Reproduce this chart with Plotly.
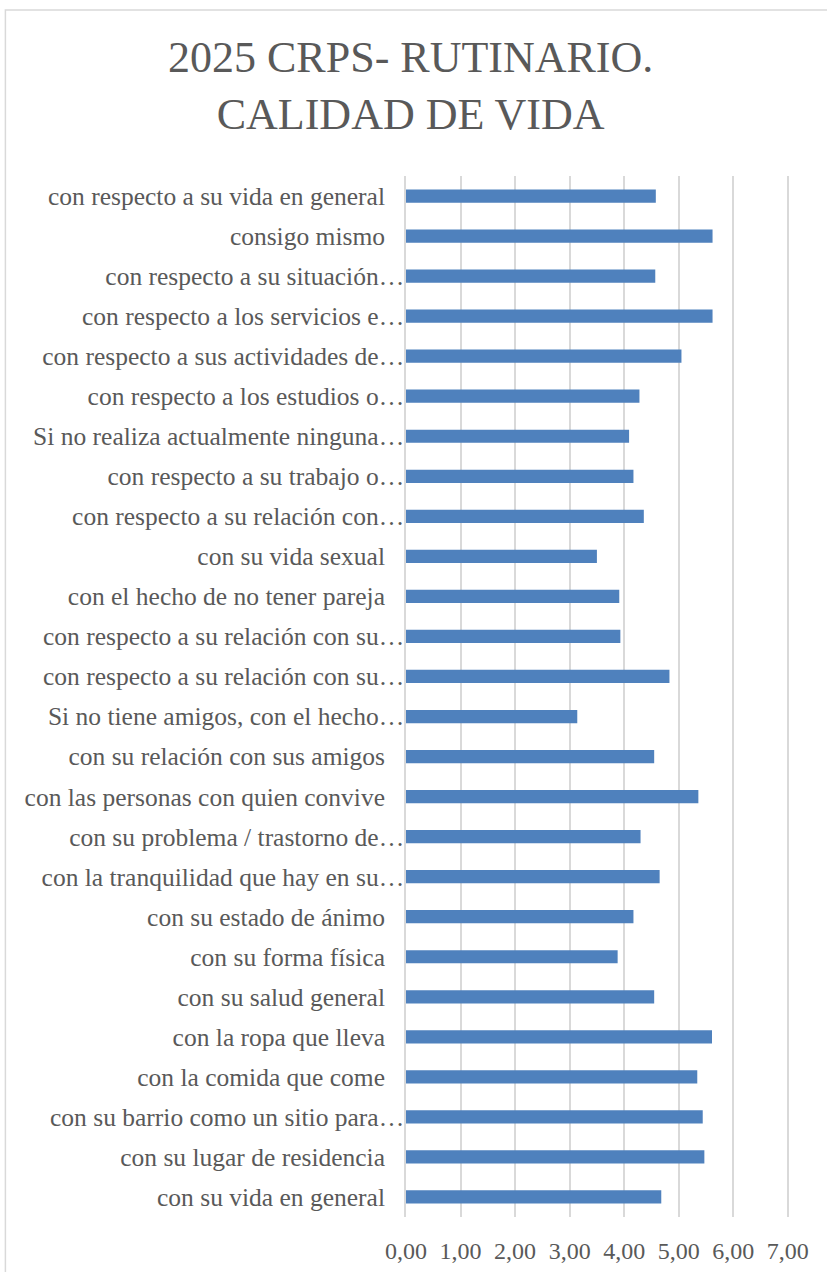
import plotly.graph_objects as go

categories = [
    "con respecto a su vida en general",
    "consigo mismo",
    "con respecto a su situación…",
    "con respecto a los servicios e…",
    "con respecto a sus actividades de…",
    "con respecto a los estudios o…",
    "Si no realiza actualmente ninguna…",
    "con respecto a su trabajo o…",
    "con respecto a su relación con…",
    "con su vida sexual",
    "con el hecho de no tener pareja",
    "con respecto a su relación con su…",
    "con respecto a su relación con su…",
    "Si no tiene amigos, con el hecho…",
    "con su relación con sus amigos",
    "con las personas con quien convive",
    "con su problema / trastorno de…",
    "con la tranquilidad que hay en su…",
    "con su estado de ánimo",
    "con su forma física",
    "con su salud general",
    "con la ropa que lleva",
    "con la comida que come",
    "con su barrio como un sitio para…",
    "con su lugar de residencia",
    "con su vida en general",
]
values = [4.58, 5.62, 4.57, 5.62, 5.05, 4.28, 4.09, 4.17, 4.36, 3.50, 3.91, 3.93, 4.83,
          3.14, 4.55, 5.36, 4.30, 4.65, 4.17, 3.88, 4.55, 5.61, 5.34, 5.44, 5.47, 4.68]
tick_values = [0, 1, 2, 3, 4, 5, 6, 7]
title_text = "2025 CRPS- RUTINARIO.<br>CALIDAD DE VIDA"

# unique ids for positions (two labels are identical)
ids = list(range(len(categories)))
labels = [c if c.endswith("…") else c + "\u00a0\u00a0\u00a0" for c in categories]

W, H = 827, 1272
X_MAX = 7.04
ML, MT, MB = 406, 176, 55
PW = 54.6 * X_MAX
MR = W - ML - PW
PH = H - MT - MB

fig = go.Figure(go.Bar(
    x=values, y=ids, orientation="h",
    marker=dict(color="#4F81BD", line=dict(width=0)),
    width=0.33,
))

fig.update_layout(
    width=W, height=H,
    margin=dict(l=ML, r=MR, t=MT, b=MB, pad=0, autoexpand=False),
    paper_bgcolor="white", plot_bgcolor="white",
    separators=",.",
    font=dict(family="Liberation Serif", color="#595959"),
    showlegend=False,
    xaxis=dict(
        range=[0, X_MAX], tickvals=tick_values, tickformat=".2f",
        showgrid=True, gridcolor="#D9D9D9", gridwidth=1.5,
        zeroline=False, showline=False, automargin=False,
        tickfont=dict(size=24, color="#595959"),
        ticklabelstandoff=17,
        fixedrange=True,
    ),
    yaxis=dict(
        tickmode="array", tickvals=ids, ticktext=labels,
        range=[len(ids) - 0.5, -0.5], automargin=False,
        showgrid=False, zeroline=False,
        showline=True, linecolor="#D9D9D9", linewidth=1.5,
        tickfont=dict(size=25.5, color="#595959"),
        ticklabelstandoff=-5,
    ),
    annotations=[dict(
        text=title_text, showarrow=False,
        xref="paper", yref="paper",
        x=(411 - ML) / PW, xanchor="center",
        y=(H - MB - 31) / PH, yanchor="top",
        font=dict(family="Liberation Serif", size=44, color="#595959"),
        align="center",
    )],
    shapes=[dict(
        type="rect", xref="paper", yref="paper",
        x0=(5 - ML) / PW, x1=(840 - ML) / PW,
        y0=(H - MB - 1290) / PH, y1=(H - MB - 10) / PH,
        line=dict(color="#D9D9D9", width=1.5), fillcolor="rgba(0,0,0,0)",
        layer="below",
    )],
)

fig.write_html(
    "out.html",
    config={"displayModeBar": False},
    post_script="document.body.style.margin='0';document.body.style.overflow='hidden';",
)
